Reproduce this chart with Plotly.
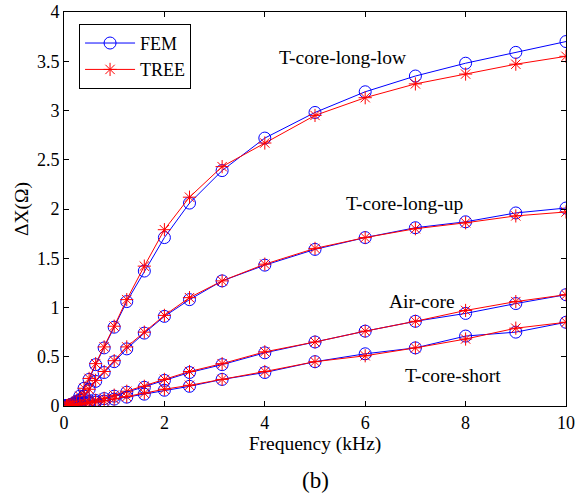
import plotly.graph_objects as go

freq = [0.05, 0.063, 0.08, 0.1, 0.125, 0.16, 0.2, 0.25, 0.315, 0.4, 0.5, 0.63, 0.8,
        1, 1.25, 1.6, 2, 2.5, 3.15, 4, 5, 6, 7, 8, 9, 10]

long_low_fem = [0.002, 0.003, 0.005, 0.008, 0.012, 0.02, 0.03, 0.05, 0.1, 0.18, 0.27, 0.42, 0.59,
                0.80, 1.06, 1.37, 1.71, 2.06, 2.39, 2.72, 2.98, 3.19, 3.35, 3.48, 3.59, 3.70]
long_low_tree = [0.002, 0.003, 0.005, 0.008, 0.012, 0.02, 0.03, 0.05, 0.1, 0.18, 0.28, 0.43, 0.60,
                 0.81, 1.08, 1.42, 1.79, 2.12, 2.43, 2.67, 2.95, 3.13, 3.27, 3.37, 3.47, 3.55]
long_up_fem = [0.001, 0.002, 0.003, 0.005, 0.008, 0.012, 0.02, 0.035, 0.06, 0.1, 0.17, 0.25, 0.34,
               0.45, 0.58, 0.74, 0.91, 1.08, 1.27, 1.43, 1.59, 1.71, 1.81, 1.87, 1.96, 2.01]
long_up_tree = [0.001, 0.002, 0.003, 0.005, 0.008, 0.012, 0.02, 0.035, 0.06, 0.1, 0.17, 0.26, 0.35,
                0.46, 0.60, 0.75, 0.92, 1.10, 1.27, 1.44, 1.60, 1.71, 1.80, 1.86, 1.93, 1.97]
air_fem = [0.003, 0.004, 0.006, 0.008, 0.01, 0.013, 0.017, 0.021, 0.027, 0.034, 0.044, 0.056, 0.075,
           0.10, 0.14, 0.19, 0.26, 0.34, 0.42, 0.54, 0.65, 0.76, 0.86, 0.94, 1.04, 1.13]
air_tree = [0.003, 0.004, 0.006, 0.008, 0.01, 0.013, 0.017, 0.021, 0.027, 0.034, 0.045, 0.058, 0.078,
            0.11, 0.15, 0.20, 0.27, 0.35, 0.43, 0.55, 0.65, 0.76, 0.86, 0.97, 1.06, 1.13]
short_fem = [0.002, 0.003, 0.004, 0.005, 0.007, 0.009, 0.012, 0.015, 0.019, 0.024, 0.03, 0.039, 0.05,
             0.07, 0.09, 0.12, 0.16, 0.20, 0.27, 0.34, 0.45, 0.53, 0.59, 0.71, 0.75, 0.85]
short_tree = [0.002, 0.003, 0.004, 0.005, 0.007, 0.009, 0.012, 0.015, 0.019, 0.024, 0.031, 0.04, 0.052,
              0.072, 0.095, 0.13, 0.17, 0.21, 0.27, 0.35, 0.45, 0.51, 0.59, 0.68, 0.79, 0.85]

labels = ["T-core-long-low", "T-core-long-up", "Air-core", "T-core-short"]
label_x = [5.54, 6.79, 7.13, 7.75]
label_y = [3.54, 2.06, 1.06, 0.31]

FONT = '"Liberation Serif"'

fig = go.Figure()
fem_sets = [long_low_fem, long_up_fem, air_fem, short_fem]
tree_sets = [long_low_tree, long_up_tree, air_tree, short_tree]
for i, (fv, tv) in enumerate(zip(fem_sets, tree_sets)):
    fig.add_trace(go.Scatter(
        x=freq, y=fv, mode="lines+markers", name="FEM", showlegend=(i == 0),
        legendgroup="FEM",
        line=dict(color="#0000ff", width=1),
        marker=dict(symbol="circle-open", size=12, color="#0000ff", line=dict(width=1))))
    fig.add_trace(go.Scatter(
        x=freq, y=tv, mode="lines+markers", name="TREE", showlegend=(i == 0),
        legendgroup="TREE",
        line=dict(color="#ff0000", width=1),
        marker=dict(symbol="asterisk-open", size=11, color="#ff0000", line=dict(width=1, color="#ff0000"))))

for t, x, y in zip(labels, label_x, label_y):
    fig.add_annotation(x=x, y=y, text=t, showarrow=False,
                       font=dict(family=FONT, size=19.5, color="black"))

fig.add_annotation(x=0.5, y=-0.188, xref="paper", yref="paper", text="(b)", showarrow=False,
                   xanchor="center", yanchor="middle",
                   font=dict(family=FONT, size=23, color="black"))

axis_common = dict(showline=True, linecolor="black", linewidth=1, mirror="ticks",
                   ticks="inside", ticklen=5, tickcolor="black", showgrid=False, zeroline=False,
                   automargin=False,
                   tickfont=dict(family=FONT, size=18, color="black"))

fig.update_xaxes(range=[0, 10], tickvals=[0, 2, 4, 6, 8, 10],
                 title=dict(text="Frequency (kHz)", font=dict(family=FONT, size=19.5, color="black"), standoff=2),
                 **axis_common)
fig.update_yaxes(range=[0, 4], tickvals=[0, 0.5, 1, 1.5, 2, 2.5, 3, 3.5, 4],
                 ticktext=["0", "0.5", "1", "1.5", "2", "2.5", "3", "3.5", "4"],
                 title=dict(text="ΔX(Ω)", font=dict(family=FONT, size=19.5, color="black"), standoff=3),
                 **axis_common)

fig.update_layout(
    width=576, height=497,
    margin=dict(l=64, r=10, t=12, b=91),
    plot_bgcolor="white", paper_bgcolor="white",
    font=dict(family=FONT, color="black"),
    legend=dict(x=0.03, y=0.97, xanchor="left", yanchor="top",
                bgcolor="white", bordercolor="black", borderwidth=1,
                font=dict(family=FONT, size=18, color="black"),
                itemwidth=50, tracegroupgap=0),
    showlegend=True,
)

fig.write_html("out.html", config={"displayModeBar": False},
               post_script="document.body.style.margin='0';document.body.style.overflow='hidden';")
